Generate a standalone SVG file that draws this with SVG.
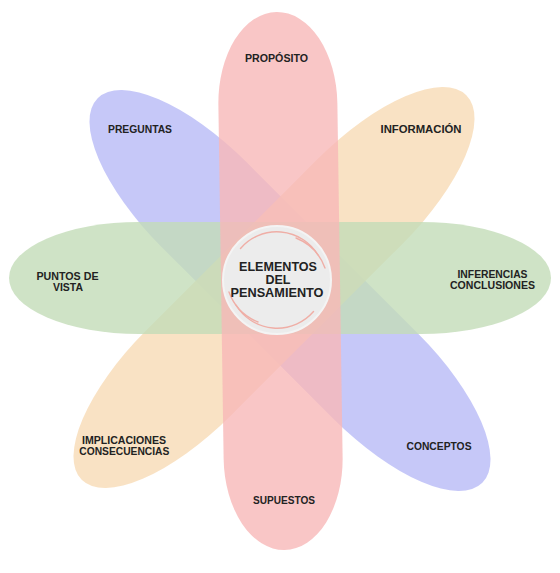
<svg xmlns="http://www.w3.org/2000/svg" width="560" height="573" viewBox="0 0 560 573">
<style>
.petal{fill-opacity:0.8}
.lbl{font-family:"Liberation Sans",Arial,sans-serif;font-weight:bold;font-size:10.5px;fill:#222;text-anchor:middle}
.ctr{font-family:"Liberation Sans",Arial,sans-serif;font-weight:bold;font-size:12.5px;fill:#222;text-anchor:middle}
.arc{fill:none;stroke:#efaea6;stroke-width:1.4;stroke-linecap:round}
</style>
<rect width="560" height="573" fill="#ffffff"/>
<g id="petal-blue"><rect class="petal" x="18" y="230.5" width="544" height="120" rx="150" ry="60" fill="#b8baf6" transform="rotate(45 290 290.5)"/></g>
<g id="petal-orange"><rect class="petal" x="2" y="227.5" width="544" height="120" rx="150" ry="60" fill="#f8dbb5" transform="rotate(-45 274 287.5)"/></g>
<g id="petal-green"><rect class="petal" x="9" y="222" width="542" height="112" rx="130" ry="56" fill="#c3dcb8"/></g>
<g id="petal-pink"><rect class="petal" x="221" y="12" width="119" height="538" rx="59.5" ry="92" fill="#f8b8b8" transform="rotate(-0.85 280.5 281)"/></g>
<g id="center">
<circle cx="277" cy="280" r="54" fill="#ececec" stroke="#f4f4f4" stroke-width="2"/>
<path class="arc" d="M240.5,248.5 A48,48 0 0 1 318,255"/>
<path class="arc" d="M296,238 A51,51 0 0 1 325,268"/>
<path class="arc" d="M313.5,311.5 A48,48 0 0 1 236,305"/>
<path class="arc" d="M258,322 A51,51 0 0 1 229,292"/>
<text class="ctr" x="278" y="271" textLength="78" lengthAdjust="spacingAndGlyphs">ELEMENTOS</text>
<text class="ctr" x="278" y="284">DEL</text>
<text class="ctr" x="277" y="297" textLength="93" lengthAdjust="spacingAndGlyphs">PENSAMIENTO</text>
</g>
<g id="n-proposito"><text class="lbl" x="276.5" y="61.5" textLength="63" lengthAdjust="spacingAndGlyphs">PROPÓSITO</text></g>
<g id="n-preguntas"><text class="lbl" x="140" y="133.3" textLength="64" lengthAdjust="spacingAndGlyphs">PREGUNTAS</text></g>
<g id="n-informacion"><text class="lbl" x="421" y="133.3" textLength="81" lengthAdjust="spacingAndGlyphs">INFORMACIÓN</text></g>
<g id="n-puntos"><text class="lbl" x="67.5" y="280" textLength="62" lengthAdjust="spacingAndGlyphs">PUNTOS DE</text><text class="lbl" x="68" y="290.5" textLength="30" lengthAdjust="spacingAndGlyphs">VISTA</text></g>
<g id="n-inferencias"><text class="lbl" x="492.5" y="277.7" textLength="70" lengthAdjust="spacingAndGlyphs">INFERENCIAS</text><text class="lbl" x="492.5" y="289" textLength="85" lengthAdjust="spacingAndGlyphs">CONCLUSIONES</text></g>
<g id="n-implicaciones"><text class="lbl" x="124" y="444.3" textLength="84" lengthAdjust="spacingAndGlyphs">IMPLICACIONES</text><text class="lbl" x="124.3" y="455" textLength="90" lengthAdjust="spacingAndGlyphs">CONSECUENCIAS</text></g>
<g id="n-conceptos"><text class="lbl" x="439" y="450" textLength="65" lengthAdjust="spacingAndGlyphs">CONCEPTOS</text></g>
<g id="n-supuestos"><text class="lbl" x="284" y="503.5" textLength="62" lengthAdjust="spacingAndGlyphs">SUPUESTOS</text></g>
<g id="connectors"></g>
</svg>
